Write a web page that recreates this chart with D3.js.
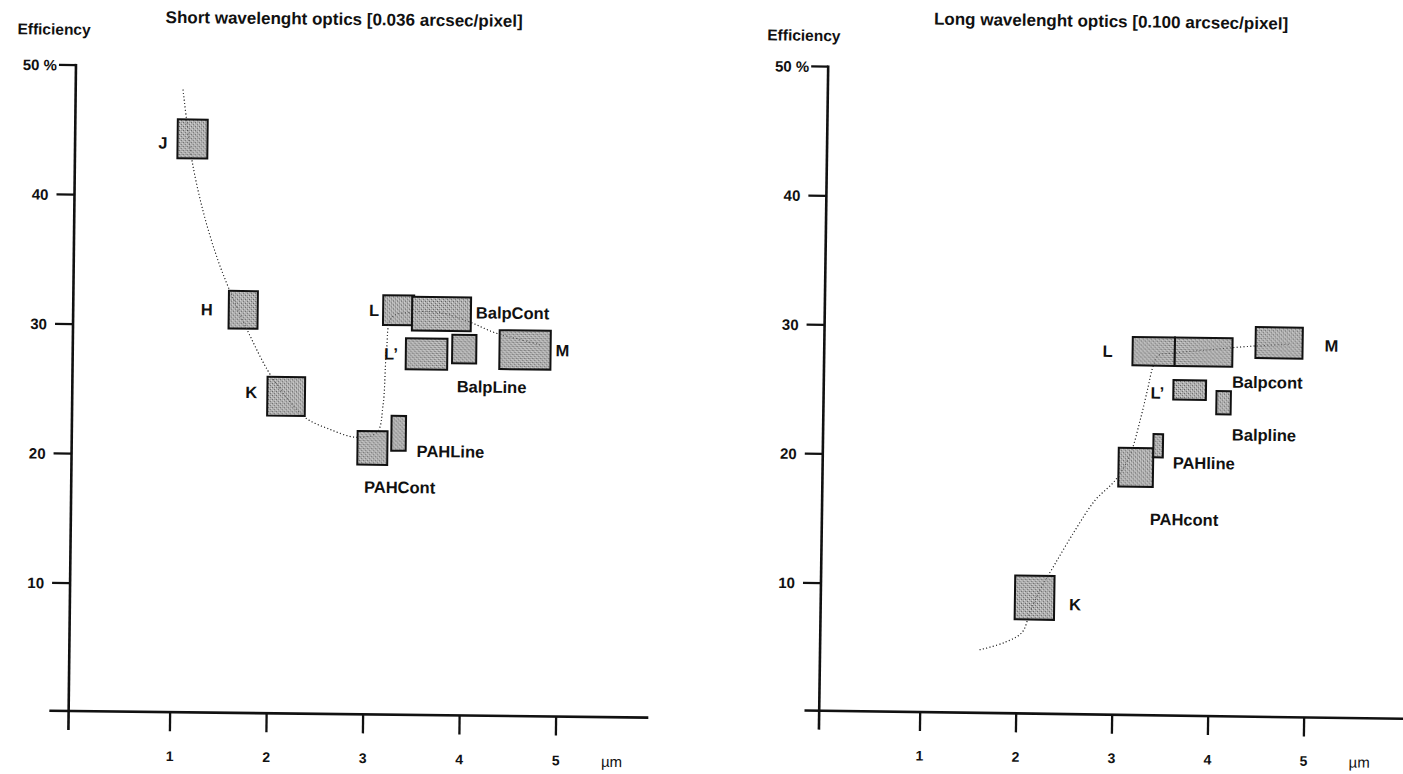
<!DOCTYPE html>
<html>
<head>
<meta charset="utf-8">
<script src="https://cdn.jsdelivr.net/npm/d3@7"></script>
<style>
  html, body { margin: 0; padding: 0; background: #fff; }
  svg text { font-family: "Liberation Sans", Arial, sans-serif; font-weight: bold; fill: #111; }
</style>
</head>
<body>
<svg id="chart" width="1403" height="774"></svg>
<script>
// ---------------- DATA ----------------
const panelTitles = ["Short wavelenght optics [0.036 arcsec/pixel]", "Long wavelenght optics [0.100 arcsec/pixel]"];
const xTicks = [1, 2, 3, 4, 5];
const yTicks = [10, 20, 30, 40, 50];
const yTickLabels = ["10", "20", "30", "40", "50 %"];

// Short wavelength optics: filter boxes (µm range, efficiency % range)
const shortNames = ["J", "H", "K", "PAHCont", "PAHLine", "L", "BalpCont", "L’", "BalpLine", "M"];
const shortX0 = [1.01, 1.56, 1.97, 2.91, 3.26, 3.16, 3.46, 3.40, 3.88, 4.37];
const shortX1 = [1.32, 1.86, 2.36, 3.22, 3.41, 3.48, 4.07, 3.83, 4.13, 4.90];
const shortY0 = [42.9, 29.8, 23.1, 19.4, 20.5, 30.2, 29.8, 26.8, 27.3, 26.9];
const shortY1 = [45.9, 32.7, 26.1, 22.0, 23.2, 32.5, 32.4, 29.2, 29.5, 29.9];
// dotted trend curve
const shortTrendX = [1.06, 1.10, 1.16, 1.28, 1.44, 1.61, 1.78, 1.97, 2.15, 2.36, 2.62, 2.90, 3.11, 3.17, 3.20, 3.25, 3.44, 3.75, 4.06, 4.32, 4.58, 4.79];
const shortTrendY = [48.2, 45.9, 42.8, 38.9, 35.1, 32.0, 29.3, 26.6, 24.7, 23.0, 22.1, 21.5, 21.9, 24.0, 28.3, 30.8, 31.2, 31.2, 30.5, 29.7, 29.2, 28.8];

// Long wavelength optics
const longNames = ["K", "PAHcont", "PAHline", "L", "Balpcont", "L’", "Balpline", "M"];
const longX0 = [1.97, 3.03, 3.39, 3.16, 3.60, 3.59, 4.04, 4.44];
const longX1 = [2.38, 3.39, 3.49, 3.60, 4.20, 3.93, 4.19, 4.93];
const longY0 = [7.4, 17.8, 20.1, 27.2, 27.2, 24.6, 23.5, 27.9];
const longY1 = [10.8, 20.8, 21.9, 29.4, 29.4, 26.1, 25.3, 30.3];
const longTrendX = [1.61, 1.87, 2.05, 2.13, 2.23, 2.38, 2.59, 2.79, 3.00, 3.15, 3.25, 3.32, 3.37, 3.43, 3.60, 3.97, 4.38, 4.80];
const longTrendY = [5.0, 5.6, 6.4, 8.0, 9.7, 11.7, 14.4, 16.7, 18.3, 20.3, 23.0, 25.3, 27.0, 28.0, 28.2, 28.5, 28.8, 29.0];

// ---------------- LAYOUT (code, not data) ----------------
// label placement relative to its box, in pixels
const shortLabelLayout = {
  "J":        {ax: "x0", dx: -10, ay: "mid", dy: 10, anchor: "end"},
  "H":        {ax: "x0", dx: -16, ay: "mid", dy: 6, anchor: "end"},
  "K":        {ax: "x0", dx: -10, ay: "mid", dy: 2, anchor: "end"},
  "L":        {ax: "x0", dx: -4, ay: "mid", dy: 6, anchor: "end"},
  "BalpCont": {ax: "x1", dx: 5, ay: "mid", dy: 4, anchor: "start"},
  "L’":       {ax: "x0", dx: -8, ay: "mid", dy: 6, anchor: "end"},
  "M":        {ax: "x1", dx: 5, ay: "mid", dy: 6, anchor: "start"},
  "BalpLine": {ax: "x0", dx: 5, ay: "bottom", dy: 29, anchor: "start"},
  "PAHLine":  {ax: "x1", dx: 11, ay: "bottom", dy: 6, anchor: "start"},
  "PAHCont":  {ax: "x0", dx: 7, ay: "bottom", dy: 28, anchor: "start"}
};
const longLabelLayout = {
  "K":        {ax: "x1", dx: 15, ay: "mid", dy: 12, anchor: "start"},
  "PAHcont":  {ax: "x0", dx: 32, ay: "bottom", dy: 38, anchor: "start"},
  "PAHline":  {ax: "x1", dx: 10, ay: "bottom", dy: 11, anchor: "start"},
  "L":        {ax: "x0", dx: -20, ay: "mid", dy: 6, anchor: "end"},
  "Balpcont": {ax: "x1", dx: 0, ay: "bottom", dy: 21, anchor: "start"},
  "L’":       {ax: "x0", dx: -9, ay: "mid", dy: 9, anchor: "end"},
  "Balpline": {ax: "x0", dx: 16, ay: "bottom", dy: 26, anchor: "start"},
  "M":        {ax: "x1", dx: 22, ay: "mid", dy: 8, anchor: "start"}
};

const svg = d3.select("#chart");

// stipple pattern for box fill
const defs = svg.append("defs");
const pat = defs.append("pattern").attr("id", "stipple").attr("patternUnits", "userSpaceOnUse")
  .attr("width", 4).attr("height", 4);
pat.append("rect").attr("width", 4).attr("height", 4).attr("fill", "#b2b2b2");
[[0,0,"#5a5a5a"],[2,2,"#6a6a6a"],[3,1,"#dcdcdc"],[1,3,"#d8d8d8"],[2,0,"#999"]].forEach(p =>
  pat.append("rect").attr("x", p[0]).attr("y", p[1]).attr("width", 1).attr("height", 1).attr("fill", p[2]));

function drawPanel(cfg) {
  const x = d3.scaleLinear().domain([0, 5]).range([cfg.x0, cfg.x5]);
  const y = d3.scaleLinear().domain([0, 50]).range([cfg.yZero, cfg.yFifty]);
  // the scanned page is slightly rotated
  const g = svg.append("g").attr("transform", `rotate(${cfg.rot},${cfg.cx},${cfg.cy})`);

  // title
  g.append("text").attr("x", cfg.titleX).attr("y", cfg.titleY).attr("text-anchor", "middle")
    .style("font-size", "17px").text(cfg.title);
  g.append("text").attr("x", cfg.effX).attr("y", cfg.effY).attr("text-anchor", "middle")
    .style("font-size", "15.5px").text("Efficiency");

  const pts = cfg.trendX.map((v, i) => [v, cfg.trendY[i]]);
  const line = d3.line().x(d => x(d[0])).y(d => y(d[1])).curve(d3.curveCatmullRom.alpha(0.5));
  g.append("path").datum(pts).attr("d", line)
    .attr("fill", "none").attr("stroke", "#333").attr("stroke-width", 1.1)
    .attr("stroke-dasharray", "1,2.4");

  // boxes
  const boxes = cfg.names.map((n, i) => ({name: n, x0: cfg.bx0[i], x1: cfg.bx1[i], y0: cfg.by0[i], y1: cfg.by1[i]}));
  g.selectAll("rect.box").data(boxes).join("rect").attr("class", "box")
    .attr("x", d => x(d.x0)).attr("y", d => y(d.y1))
    .attr("width", d => x(d.x1) - x(d.x0)).attr("height", d => y(d.y0) - y(d.y1))
    .attr("fill", "url(#stipple)")
    .attr("stroke", "#111").attr("stroke-width", 2);
  // trend shows through the boxes
  g.append("path").datum(pts).attr("d", line)
    .attr("fill", "none").attr("stroke", "#333").attr("stroke-width", 1)
    .attr("stroke-dasharray", "1,2.4").attr("opacity", 0.75);

  // labels
  g.selectAll("text.lbl").data(boxes).join("text").attr("class", "lbl")
    .style("font-size", "16.5px")
    .attr("text-anchor", d => cfg.layout[d.name].anchor)
    .attr("x", d => { const L = cfg.layout[d.name]; return x(d[L.ax]) + L.dx; })
    .attr("y", d => {
      const L = cfg.layout[d.name];
      return (L.ay === "bottom" ? y(d.y0) : (y(d.y0) + y(d.y1)) / 2) + L.dy;
    })
    .text(d => d.name);

  // x axis
  const axisY = cfg.yZero - 1.5;
  g.append("line").attr("x1", cfg.xAxisStart).attr("x2", cfg.xAxisEnd)
    .attr("y1", axisY).attr("y2", axisY).attr("stroke", "#111").attr("stroke-width", 2.6);
  g.selectAll("line.xt").data(xTicks).join("line").attr("class", "xt")
    .attr("x1", d => x(d)).attr("x2", d => x(d))
    .attr("y1", axisY).attr("y2", axisY + 19)
    .attr("stroke", "#111").attr("stroke-width", 2.3);
  g.selectAll("text.xl").data(xTicks).join("text").attr("class", "xl")
    .attr("x", d => x(d)).attr("y", 763).attr("text-anchor", "middle")
    .style("font-size", "14px").text(d => d);
  g.append("text").attr("x", x(5.58)).attr("y", 764).attr("text-anchor", "middle")
    .style("font-size", "15px").style("font-weight", "normal").text("µm");

  // y axis
  const ax = x(0) - 5;
  g.append("line").attr("x1", ax).attr("x2", ax)
    .attr("y1", y(50) - 1.2).attr("y2", axisY + 19).attr("stroke", "#111").attr("stroke-width", 2.6);
  g.selectAll("line.yt").data(yTicks).join("line").attr("class", "yt")
    .attr("x1", d => ax - (d === 50 ? 17 : 18)).attr("x2", ax)
    .attr("y1", d => y(d)).attr("y2", d => y(d))
    .attr("stroke", "#111").attr("stroke-width", 2.3);
  g.selectAll("text.yl").data(yTicks).join("text").attr("class", "yl")
    .attr("x", d => ax - (d === 50 ? 19 : 26)).attr("y", d => y(d) + 5.5)
    .attr("text-anchor", "end").style("font-size", "15px")
    .text((d, i) => yTickLabels[i]);
}

drawPanel({
  title: panelTitles[0], titleX: 340, titleY: 25, effX: 50, effY: 38,
  rot: 0.65, cx: 350, cy: 390,
  x0: 77.3, x5: 559.8, yZero: 715.7, yFifty: 68.2,
  xAxisStart: 53, xAxisEnd: 652,
  names: shortNames, bx0: shortX0, bx1: shortX1, by0: shortY0, by1: shortY1,
  trendX: shortTrendX, trendY: shortTrendY, layout: shortLabelLayout
});
drawPanel({
  title: panelTitles[1], titleX: 1106, titleY: 27, effX: 799, effY: 45,
  rot: 0.8, cx: 1105, cy: 390,
  x0: 828.7, x5: 1308.7, yZero: 716.1, yFifty: 70.6,
  xAxisStart: 809, xAxisEnd: 1420,
  names: longNames, bx0: longX0, bx1: longX1, by0: longY0, by1: longY1,
  trendX: longTrendX, trendY: longTrendY, layout: longLabelLayout
});
</script>
</body>
</html>
